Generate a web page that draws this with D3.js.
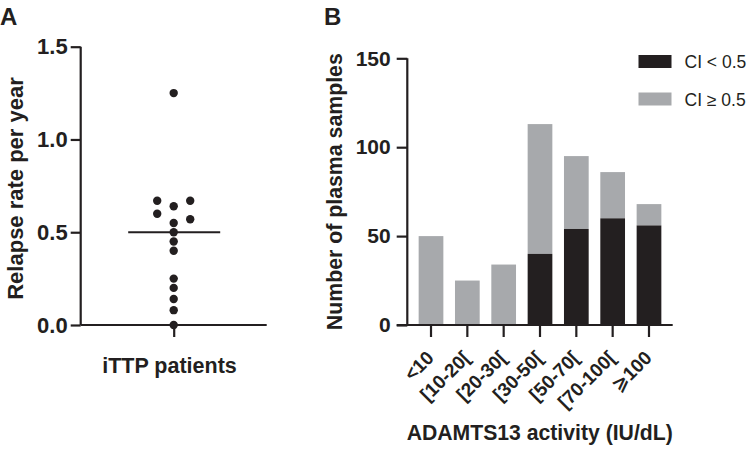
<!DOCTYPE html>
<html><head><meta charset="utf-8">
<script src="https://cdn.jsdelivr.net/npm/d3@7"></script>
<style>
html,body{margin:0;padding:0;background:#fff;}
svg{display:block;}
text{font-family:"Liberation Sans",Arial,Helvetica,sans-serif;fill:#231f20;}
</style></head>
<body>
<script>
// ---- Panel A data ----
const relapseRates = [1.25, 0.67, 0.67, 0.64, 0.60, 0.57, 0.55, 0.50, 0.45, 0.40, 0.25, 0.20, 0.14, 0.08, 0.00];
const swarmLane    = [0, -1, 1, 0, -1, 1, 0, 0, 0, 0, 0, 0, 0, 0, 0];
const medianRate = 0.5;
const groupA = ["iTTP patients"];
const ticksA = [0, 0.5, 1.0, 1.5];

// ---- Panel B data ----
const categories = ["<10", "[10-20[", "[20-30[", "[30-50[", "[50-70[", "[70-100[", "\u2A7E100"];
const ciLow  = [0, 0, 0, 40, 54, 60, 56];     // CI < 0.5
const ciHigh = [50, 25, 34, 73, 41, 26, 12];  // CI >= 0.5 (stacked on top)
const seriesNames = ["CI < 0.5", "CI \u2265 0.5"];
const ticksB = [0, 50, 100, 150];

const W = 748, H = 449;
const ink = "#231f20", grey = "#a7a9ac";
const svg = d3.select("body").append("svg").attr("width", W).attr("height", H);

// ================= Panel A =================
const yA = d3.scaleLinear().domain([0, 1.5]).range([325, 46.7]);
const xA = d3.scalePoint().domain(groupA).range([80.7, 266.7]).padding(0.5);
const gA = svg.append("g");

const axisYA = d3.axisLeft(yA).tickValues(ticksA).tickFormat(d3.format(".1f")).tickSize(10).tickPadding(3);
gA.append("g").attr("transform", "translate(80.7,0)").call(axisYA);
const axisXA = d3.axisBottom(xA).tickSize(12).tickFormat("");
gA.append("g").attr("transform", "translate(0,325)").call(axisXA);
gA.selectAll(".tick line").attr("stroke", ink).attr("stroke-width", 2.2);
gA.selectAll(".tick text").attr("font-size", 22).attr("font-weight", "bold").attr("fill", ink)
  .style("font-family", '"Liberation Sans",Arial,sans-serif');
gA.selectAll(".domain").remove();
gA.append("line").attr("x1", 80.7).attr("x2", 80.7).attr("y1", yA(1.5)).attr("y2", yA(0)).attr("stroke", ink).attr("stroke-width", 2.2);
gA.append("line").attr("x1", 80.7).attr("x2", 266.7).attr("y1", 325).attr("y2", 325).attr("stroke", ink).attr("stroke-width", 2.2);

const laneW = 16.5;
const cx = xA(groupA[0]);
gA.append("line")
  .attr("x1", cx - 45.5).attr("x2", cx + 46.5)
  .attr("y1", yA(medianRate)).attr("y2", yA(medianRate))
  .attr("stroke", ink).attr("stroke-width", 2.2);
gA.selectAll("circle.pt").data(relapseRates).join("circle").attr("class", "pt")
  .attr("cx", (d, i) => cx + swarmLane[i] * laneW)
  .attr("cy", d => yA(d)).attr("r", 4.2).attr("fill", ink);

gA.append("text").attr("x", 169.5).attr("y", 373).attr("text-anchor", "middle")
  .attr("font-size", 21.5).attr("font-weight", "bold").text(groupA[0]);
gA.append("text").attr("transform", "translate(22.5,188.5) rotate(-90)").attr("text-anchor", "middle")
  .attr("font-size", 22).attr("font-weight", "bold").text("Relapse rate per year");
svg.append("text").attr("x", 0).attr("y", 25).attr("font-size", 24).attr("font-weight", "bold").text("A");

// ================= Panel B =================
const yB = d3.scaleLinear().domain([0, 150]).range([325, 58.3]);
const xB = d3.scaleBand().domain(categories).range([407.3, 672.7]).paddingInner(0.32).paddingOuter(0.3125);
const gB = svg.append("g");

const stacked = categories.map((c, i) => ({ cat: c, low: ciLow[i], high: ciHigh[i] }));
gB.selectAll("rect.hi").data(stacked).join("rect").attr("class", "hi")
  .attr("x", d => xB(d.cat)).attr("width", xB.bandwidth())
  .attr("y", d => yB(d.low + d.high)).attr("height", d => yB(d.low) - yB(d.low + d.high))
  .attr("fill", grey);
gB.selectAll("rect.lo").data(stacked.filter(d => d.low > 0)).join("rect").attr("class", "lo")
  .attr("x", d => xB(d.cat)).attr("width", xB.bandwidth())
  .attr("y", d => yB(d.low)).attr("height", d => yB(0) - yB(d.low))
  .attr("fill", ink);

const axisYB = d3.axisLeft(yB).tickValues(ticksB).tickSize(10.6).tickPadding(6);
const gyB = gB.append("g").attr("transform", "translate(407.3,0)").call(axisYB);
const axisXB = d3.axisBottom(xB).tickSize(12).tickPadding(4);
const gxB = gB.append("g").attr("transform", "translate(0,325)").call(axisXB);
[gyB, gxB].forEach(g => {
  g.select(".domain").remove();
  g.selectAll(".tick line").attr("stroke", ink).attr("stroke-width", 2.2);
  g.selectAll(".tick text").attr("font-size", 21).attr("font-weight", "bold").attr("fill", ink)
    .style("font-family", '"Liberation Sans",Arial,"DejaVu Sans",sans-serif');
});
gB.append("line").attr("x1", 407.3).attr("x2", 407.3).attr("y1", yB(150)).attr("y2", yB(0)).attr("stroke", ink).attr("stroke-width", 2.2);
gB.append("line").attr("x1", 396.7).attr("x2", 672.7).attr("y1", 325).attr("y2", 325).attr("stroke", ink).attr("stroke-width", 2.2);

gxB.selectAll(".tick text")
  .attr("text-anchor", "end")
  .attr("x", 0).attr("y", 0).attr("dy", null)
  .attr("transform", "translate(4,34) rotate(-45)")
  .attr("font-size", 19);

gB.append("text").attr("transform", "translate(342,191.7) rotate(-90)").attr("text-anchor", "middle")
  .attr("font-size", 21.3).attr("font-weight", "bold").text("Number of plasma samples");
gB.append("text").attr("x", 539.7).attr("y", 440).attr("text-anchor", "middle")
  .attr("font-size", 21.2).attr("font-weight", "bold").text("ADAMTS13 activity (IU/dL)");
svg.append("text").attr("x", 324).attr("y", 25).attr("font-size", 24).attr("font-weight", "bold").text("B");

// legend
const legColors = [ink, grey];
const leg = gB.append("g");
seriesNames.forEach((s, i) => {
  leg.append("rect").attr("x", 638.5).attr("y", 55 + i * 37.5).attr("width", 33).attr("height", 13).attr("fill", legColors[i]);
  leg.append("text").attr("x", 684.5).attr("y", 68.3 + i * 37.5).attr("font-size", 17.5).text(s);
});
</script>
</body></html>
